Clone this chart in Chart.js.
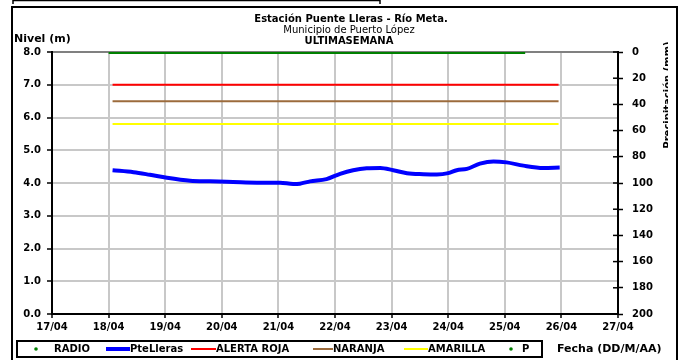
<!DOCTYPE html>
<html>
<head>
<meta charset="utf-8">
<script src="https://cdn.jsdelivr.net/npm/chart.js@4"></script>
<style>
  html, body { margin: 0; padding: 0; background: #fff; }
  #wrap { width: 679px; height: 360px; }
</style>
</head>
<body>
<div id="wrap"><canvas id="grafica" width="679" height="360"></canvas></div>
<script>
// Datos
const etiquetasFecha = ['17/04', '18/04', '19/04', '20/04', '21/04', '22/04', '23/04', '24/04', '25/04', '26/04', '27/04'];
const diaInicio = 17;
const diaFin = 27;

// PteLleras: fecha (dia decimal de abril) y nivel (m)
const fechaNivel = [18.07, 18.44, 18.73, 19.03, 19.44, 19.79, 20.2, 20.62, 21.03, 21.26, 21.38, 21.56, 21.85, 22.09, 22.32, 22.56, 22.8, 23.03, 23.27, 23.56, 23.8, 24.0, 24.15, 24.33, 24.56, 24.8, 25.03, 25.33, 25.68, 25.97];
const nivelPteLleras = [4.39, 4.33, 4.25, 4.16, 4.07, 4.05, 4.03, 4.01, 4.01, 3.97, 3.98, 4.05, 4.12, 4.28, 4.39, 4.45, 4.46, 4.39, 4.30, 4.27, 4.26, 4.30, 4.39, 4.43, 4.59, 4.66, 4.63, 4.53, 4.46, 4.47];

// RADIO (linea a 8.0)
const fechaRadio = [18.0, 25.36];
const nivelRadio = [8.0, 8.0];

// Umbrales
const fechaUmbral = [18.07, 25.95];
const alertaRoja = 7.0;
const alertaNaranja = 6.5;
const alertaAmarilla = 5.8;

// P (precipitacion) sin datos visibles
const fechaP = [];
const valorP = [];

const FUENTE = "'DejaVu Sans', Arial, sans-serif";

function puntos(xs, ys) {
    return xs.map((x, i) => ({ x: x, y: ys[i] }));
}

const estiloLeyenda = ['punto', 'linea', 'linea', 'linea', 'linea', 'punto'];

// Textos, marco, leyenda
const extras = {
    id: 'extras',
    afterDraw(chart) {
        const c = chart.ctx;
        const area = chart.chartArea;
        c.save();

        // marco exterior
        c.strokeStyle = '#000';
        c.lineWidth = 2;
        c.beginPath();
        c.moveTo(12, 362);
        c.lineTo(12, 7);
        c.lineTo(677, 7);
        c.lineTo(677, 362);
        c.stroke();
        // resto del marco superior
        c.lineWidth = 1.5;
        c.beginPath();
        c.moveTo(13, 4);
        c.lineTo(13, 0.5);
        c.lineTo(380, 0.5);
        c.lineTo(380, 4);
        c.stroke();

        // titulos
        c.fillStyle = '#000';
        c.textAlign = 'center';
        c.textBaseline = 'middle';
        c.font = 'bold 10px ' + FUENTE;
        c.fillText('Estación Puente Lleras - Río Meta.', 351, 19);
        c.font = '10px ' + FUENTE;
        c.fillText('Municipio de Puerto López', 349, 30);
        c.font = 'bold 10px ' + FUENTE;
        c.fillText('ULTIMASEMANA', 349, 41);

        c.textAlign = 'left';
        c.font = 'bold 11px ' + FUENTE;
        c.fillText('Nivel (m)', 14, 39);

        // marcas interiores del eje derecho
        const y2 = chart.scales.y2;
        c.strokeStyle = '#000';
        c.lineWidth = 1.5;
        y2.ticks.forEach(t => {
            const py = y2.getPixelForValue(t.value);
            c.beginPath();
            c.moveTo(area.right - 5, py);
            c.lineTo(area.right, py);
            c.stroke();
        });

        // titulo eje derecho (recortado)
        c.save();
        c.beginPath();
        c.rect(0, 0, 668, 360);
        c.clip();
        c.translate(663, 95);
        c.rotate(-Math.PI / 2);
        c.textAlign = 'center';
        c.textBaseline = 'top';
        c.font = 'bold 10px ' + FUENTE;
        c.fillText('Precipitación (mm)', 0, 0);
        c.restore();

        // leyenda
        c.strokeStyle = '#000';
        c.lineWidth = 2;
        c.strokeRect(17, 341, 525, 16);
        const posX = [36, 106, 191, 313, 404, 511];
        const textoX = [54, 130, 216, 333, 428, 522];
        const ly = 349;
        c.font = 'bold 10px ' + FUENTE;
        c.textAlign = 'left';
        c.textBaseline = 'middle';
        chart.data.datasets.forEach((ds, i) => {
            if (estiloLeyenda[i] === 'punto') {
                c.fillStyle = ds.leyendaColor;
                c.beginPath();
                c.arc(posX[i], ly, 1.8, 0, Math.PI * 2);
                c.fill();
            } else {
                c.strokeStyle = ds.borderColor;
                c.lineWidth = ds.borderWidth;
                c.beginPath();
                c.moveTo(posX[i], ly);
                c.lineTo(textoX[i], ly);
                c.stroke();
            }
            c.fillStyle = '#000';
            c.fillText(ds.label, textoX[i], ly + 0.5);
        });

        c.font = 'bold 11px ' + FUENTE;
        c.fillText('Fecha (DD/M/AA)', 557, 349);
        c.restore();
    }
};

const ctx = document.getElementById('grafica').getContext('2d');
const grafica = new Chart(ctx, {
    type: 'line',
    data: {
        datasets: [
            {
                label: 'RADIO',
                data: puntos(fechaRadio, nivelRadio),
                borderColor: '#008000',
                leyendaColor: '#008000',
                borderWidth: 4,
                pointRadius: 0,
                yAxisID: 'y'
            },
            {
                label: 'PteLleras',
                data: puntos(fechaNivel, nivelPteLleras),
                borderColor: '#0000ff',
                borderWidth: 4,
                pointRadius: 0,
                cubicInterpolationMode: 'monotone',
                yAxisID: 'y'
            },
            {
                label: 'ALERTA ROJA',
                data: puntos(fechaUmbral, fechaUmbral.map(() => alertaRoja)),
                borderColor: '#ff0000',
                borderWidth: 2,
                pointRadius: 0,
                yAxisID: 'y'
            },
            {
                label: 'NARANJA',
                data: puntos(fechaUmbral, fechaUmbral.map(() => alertaNaranja)),
                borderColor: '#9c6b3c',
                borderWidth: 2,
                pointRadius: 0,
                yAxisID: 'y'
            },
            {
                label: 'AMARILLA',
                data: puntos(fechaUmbral, fechaUmbral.map(() => alertaAmarilla)),
                borderColor: '#ffff00',
                borderWidth: 2,
                pointRadius: 0,
                yAxisID: 'y'
            },
            {
                label: 'P',
                data: puntos(fechaP, valorP),
                borderColor: '#008000',
                leyendaColor: '#008000',
                borderWidth: 0,
                showLine: false,
                pointRadius: 1.5,
                yAxisID: 'y2'
            }
        ]
    },
    options: {
        responsive: false,
        devicePixelRatio: 1,
        animation: false,
        layout: { padding: { top: 52, left: 0, right: 0, bottom: 0 } },
        plugins: {
            legend: { display: false },
            tooltip: { enabled: false },
            title: { display: false }
        },
        scales: {
            x: {
                type: 'linear',
                position: 'bottom',
                min: diaInicio,
                max: diaFin,
                ticks: {
                    stepSize: 1,
                    autoSkip: false,
                    maxRotation: 0,
                    padding: 3,
                    color: '#000',
                    font: { family: FUENTE, size: 10, weight: 'bold' },
                    callback: v => etiquetasFecha[v - diaInicio]
                },
                grid: { color: '#c8c8c8', lineWidth: 2, tickColor: '#000', tickLength: 4, tickWidth: 1.5 },
                border: { color: '#000', width: 2 },
                afterFit: s => { s.height = 46; }
            },
            y: {
                position: 'left',
                min: 0,
                max: 8,
                ticks: {
                    stepSize: 1,
                    padding: 6,
                    color: '#000',
                    font: { family: FUENTE, size: 10, weight: 'bold' },
                    callback: v => v.toFixed(1)
                },
                grid: {
                    color: c => (c.tick && c.tick.value === 8 ? '#808080' : '#c8c8c8'),
                    lineWidth: 2,
                    tickColor: '#000',
                    tickLength: 5,
                    tickWidth: 1.5
                },
                border: { color: '#000', width: 2 },
                afterFit: s => { s.width = 52; }
            },
            y2: {
                position: 'right',
                min: 0,
                max: 200,
                reverse: true,
                ticks: {
                    stepSize: 20,
                    padding: 9,
                    color: '#000',
                    font: { family: FUENTE, size: 10, weight: 'bold' }
                },
                grid: { drawOnChartArea: false, tickColor: '#000', tickLength: 5, tickWidth: 1.5 },
                border: { color: '#000', width: 2 },
                afterFit: s => { s.width = 61; }
            }
        }
    },
    plugins: [extras]
});
</script>
</body>
</html>
